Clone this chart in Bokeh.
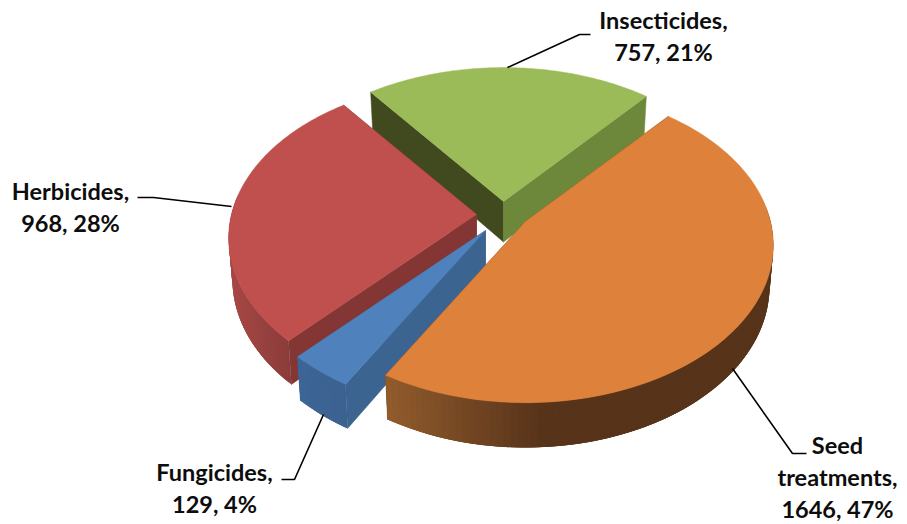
import math
from bokeh.plotting import figure
from bokeh.embed import file_html
from bokeh.resources import INLINE
from bokeh.core.properties import value as fixed

# ---- data ----
categories = ["Seed treatments", "Fungicides", "Herbicides", "Insecticides"]
values = [1646, 129, 968, 757]
percents = [47, 4, 28, 21]
label_names = [["Seed", "treatments,"], ["Fungicides,"], ["Herbicides,"], ["Insecticides,"]]

# ---- styling / layout ----
top_colors = ["#DD813B", "#4F81BD", "#C0504D", "#9BBB59"]
wall_start = ["#6E4420", "#3C6491", "#843634", "#41491F"]   # wall on the slice's first radius
wall_end = ["#6E4420", "#3C6491", "#843634", "#6E883B"]     # wall on the slice's last radius
apex = [(525, 221), (485, 230), (476, 214), (503, 201)]
shade_light = [(146, 92, 44), (62, 102, 150), (166, 72, 69), (110, 136, 59)]
shade_dark = [(87, 51, 26), (60, 98, 144), (136, 59, 57), (110, 136, 59)]
shade_range = [(387, 545), (300, 350), (232, 295), (368, 647)]
draw_order = [3, 2, 1, 0]

start_angle = 40.5
RX, RY, PERSP, DEPTH, BOTTOM_SCALE = 245.0, 154.0, 0.15, 40.5, 0.985
FONT = "Lato"
FONT_SIZE = "23.5px"

W, H = 907, 524
p = figure(width=W, height=H, x_range=(0, W), y_range=(H, 0), output_backend="svg",
           toolbar_location=None, min_border=0, outline_line_color=None)
p.xaxis.visible = False
p.yaxis.visible = False
p.grid.visible = False


def project(ax, ay, theta, bottom=False):
    t = math.radians(theta)
    x, y = math.sin(t), math.cos(t)
    f = 1.0 / (1.0 + PERSP * y)
    dx, dy = RX * x * f, -RY * y * f
    if bottom:
        return ax + dx * BOTTOM_SCALE, ay + dy * BOTTOM_SCALE + DEPTH * f
    return ax + dx, ay + dy


def hex_of(c):
    return "#%02x%02x%02x" % tuple(int(round(v)) for v in c)


total = sum(values)
angle = start_angle
slices = []
for v in values:
    sweep = 360.0 * v / total
    slices.append((angle, angle + sweep))
    angle += sweep

STEPS = 120
for i in draw_order:
    a0, a1 = slices[i]
    ax, ay = apex[i]
    thetas = [a0 + (a1 - a0) * k / STEPS for k in range(STEPS + 1)]
    top = [project(ax, ay, t) for t in thetas]
    bot = [project(ax, ay, t, True) for t in thetas]
    apex_bottom = (ax, ay + DEPTH)

    # radial walls
    p.patch([ax, top[0][0], bot[0][0], apex_bottom[0]], [ay, top[0][1], bot[0][1], apex_bottom[1]],
            fill_color=wall_start[i], line_color=wall_start[i], line_width=0.5)
    p.patch([ax, top[-1][0], bot[-1][0], apex_bottom[0]], [ay, top[-1][1], bot[-1][1], apex_bottom[1]],
            fill_color=wall_end[i], line_color=wall_end[i], line_width=0.5)

    # curved rim, shaded strip by strip; each strip overlaps the next so no seams show
    xs, ys, cols = [], [], []
    lo, hi = shade_range[i]
    for k in range(STEPS):
        if math.cos(math.radians(thetas[k])) > 0.1 and math.cos(math.radians(thetas[k + 1])) > 0.1:
            continue
        e = min(k + 3, STEPS)
        xs.append([top[k][0], top[e][0], bot[e][0], bot[k][0]])
        ys.append([top[k][1], top[e][1], bot[e][1], bot[k][1]])
        u = min(1.0, max(0.0, (top[k][0] - lo) / (hi - lo)))
        cols.append(hex_of([shade_light[i][c] + (shade_dark[i][c] - shade_light[i][c]) * u for c in range(3)]))
    if xs:
        p.patches(xs, ys, fill_color=cols, line_color=None)

    # top face
    p.patch([ax] + [q[0] for q in top], [ay] + [q[1] for q in top],
            fill_color=top_colors[i], line_color=top_colors[i], line_width=0.5)

# ---- leader lines ----
leaders = [
    ([732, 792, 806], [368, 453, 453]),
    ([323, 294, 281], [414, 479, 479]),
    ([231, 153, 137], [206, 197, 197]),
    ([507, 579, 590], [67, 34, 34]),
]
for lx, ly in leaders:
    p.line(lx, ly, line_color="black", line_width=1.6)

# ---- labels ----
label_center = [837, 214, 70, 663]
label_first_y = [444, 471, 190, 19]
LINE_STEP = 32
for i in range(len(values)):
    lines = label_names[i] + [f"{values[i]}, {percents[i]}%"]
    p.text([label_center[i]] * len(lines), [label_first_y[i] + LINE_STEP * n for n in range(len(lines))],
           text=lines, text_font=fixed(FONT), text_font_style="bold", text_font_size=fixed(FONT_SIZE),
           text_color="#0d0d0d", text_align="center", text_baseline="middle")

open("out.html", "w").write(file_html(p, INLINE))
